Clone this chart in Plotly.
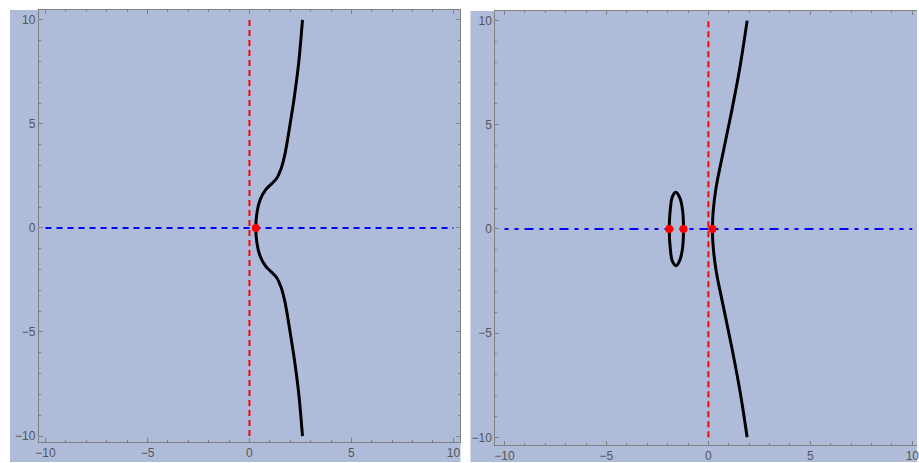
import plotly.graph_objects as go

# ---- data ----
left_curve_x = [2.6, 2.42, 2.2, 1.96, 1.75, 1.55, 1.33, 1.08, 0.78, 0.52, 0.37, 0.31,
                0.37, 0.52, 0.78, 1.08, 1.33, 1.55, 1.75, 1.96, 2.2, 2.42, 2.6]
left_curve_y = [10, 8.0, 6.3, 4.8, 3.6, 2.85, 2.38, 2.12, 1.82, 1.35, 0.75, 0,
                -0.75, -1.35, -1.82, -2.12, -2.38, -2.85, -3.6, -4.8, -6.3, -8.0, -10]
left_roots_x = [0.31]
left_roots_y = [0]

oval_x = [-1.92, -1.87, -1.76, -1.59, -1.40, -1.27, -1.22, -1.27, -1.40, -1.59, -1.76, -1.87, -1.92]
oval_y = [0, 0.93, 1.57, 1.76, 1.49, 0.93, 0, -0.93, -1.49, -1.76, -1.57, -0.93, 0]
branch_x = [1.9, 1.57, 1.17, 0.75, 0.38, 0.23, 0.2, 0.23, 0.38, 0.75, 1.17, 1.57, 1.9]
branch_y = [10, 7.9, 5.8, 3.8, 2.0, 0.8, 0, -0.8, -2.0, -3.8, -5.8, -7.9, -10]
right_roots_x = [-1.92, -1.22, 0.2]
right_roots_y = [0, 0, 0]

xaxis_line = [-10, 10]
zero_line = [0, 0]
tick_vals = [-10, -5, 0, 5, 10]
tick_text = ["\u221210", "\u22125", "0", "5", "10"]

BG = "#AEBCD9"
AX = "#808080"

fig = go.Figure()

def add_panel(xa, ya, curves, roots_x, roots_y, blue_dash):
    fig.add_trace(go.Scatter(x=xaxis_line, y=zero_line, mode="lines",
                             line=dict(color="#0000FF", width=2, dash=blue_dash),
                             xaxis=xa, yaxis=ya, showlegend=False, hoverinfo="skip"))
    fig.add_trace(go.Scatter(x=zero_line, y=xaxis_line, mode="lines",
                             line=dict(color="#FF0000", width=2, dash="6px,4px"),
                             xaxis=xa, yaxis=ya, showlegend=False, hoverinfo="skip"))
    for cx, cy in curves:
        fig.add_trace(go.Scatter(x=cx, y=cy, mode="lines",
                                 line=dict(color="black", width=3, shape="spline", smoothing=1.0),
                                 xaxis=xa, yaxis=ya, showlegend=False))
    fig.add_trace(go.Scatter(x=roots_x, y=roots_y, mode="markers",
                             marker=dict(color="#FF0000", size=8),
                             xaxis=xa, yaxis=ya, showlegend=False))

add_panel("x", "y", [(left_curve_x, left_curve_y)], left_roots_x, left_roots_y, "6px,5px")
add_panel("x2", "y2", [(oval_x, oval_y), (branch_x, branch_y)], right_roots_x, right_roots_y,
          "4px,6px,4px,6px,9px,6px")

W, H = 919, 463

def axis(domain, rng, mirror):
    return dict(domain=domain, range=rng, showline=True, linecolor=AX, linewidth=1,
                mirror=mirror, ticks="inside", ticklen=4, tickcolor=AX,
                tickvals=tick_vals, ticktext=tick_text, showgrid=False, zeroline=False,
                ticklabeloverflow="allow",
                tickfont=dict(family="Liberation Sans, Arial", size=12, color="#555555"),
                minor=dict(dtick=1, tick0=0, ticks="inside", ticklen=2, tickcolor=AX, showgrid=False))

shapes = [
    dict(type="rect", xref="paper", yref="paper", x0=7 / W, x1=460 / W, y0=0, y1=(H - 10) / H,
         fillcolor=BG, line=dict(width=0), layer="below"),
    dict(type="rect", xref="paper", yref="paper", x0=470 / W, x1=1, y0=0, y1=(H - 11) / H,
         fillcolor=BG, line=dict(width=0), layer="below"),
]

fig.update_layout(
    width=W, height=H,
    margin=dict(l=0, r=0, t=0, b=0),
    paper_bgcolor="white", plot_bgcolor=BG,
    shapes=shapes,
    xaxis=dict(axis([36 / W, 459 / W], [-10.33, 10.3], "ticks"), anchor="y"),
    yaxis=dict(axis([20 / H, 453 / H], [-10.29, 10.48], "ticks"), anchor="x"),
    xaxis2=dict(axis([495 / W, 1.0], [-10.45, 10.23], "ticks"), anchor="y2"),
    yaxis2=dict(axis([17 / H, 451.5 / H], [-10.37, 10.44], False), anchor="x2"),
)

fig.write_html("out.html", config={"displayModeBar": False},
               post_script="document.body.style.margin='0';document.body.style.overflow='hidden';")
